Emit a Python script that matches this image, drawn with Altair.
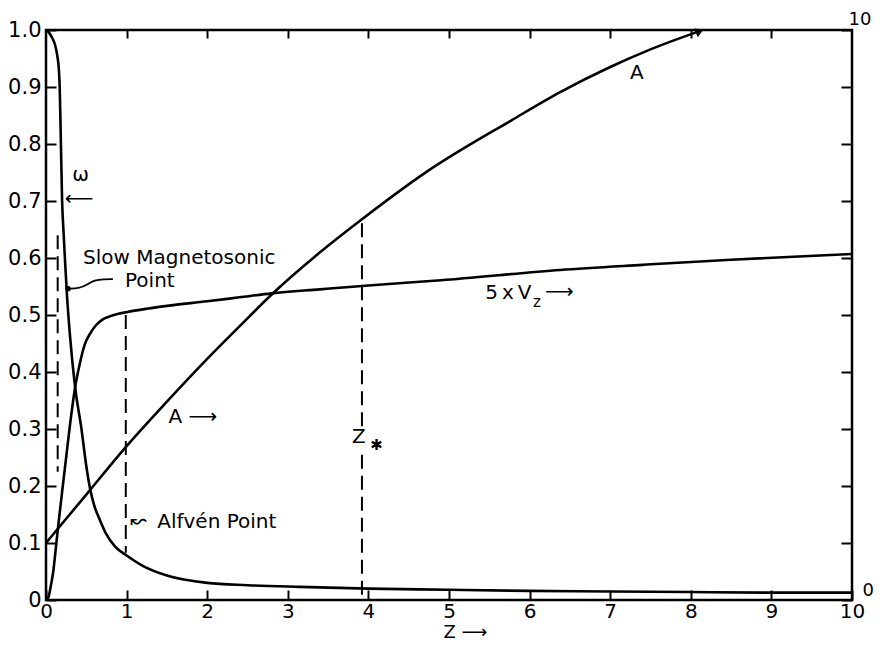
import altair as alt
import pandas as pd

# ---------------- data ----------------
omega_z = [0, 0.04, 0.08, 0.11, 0.14, 0.16, 0.17, 0.185, 0.2, 0.22, 0.24, 0.26,
           0.3, 0.36, 0.44, 0.5, 0.55, 0.6, 0.67, 0.75, 0.85, 1.0, 1.2, 1.5,
           2.0, 2.5, 3.15, 4, 5, 6, 7, 8, 9, 10]
omega_v = [1.0, 0.995, 0.985, 0.975, 0.955, 0.93, 0.9, 0.8, 0.7, 0.64, 0.585, 0.535,
           0.46, 0.375, 0.30, 0.235, 0.193, 0.165, 0.14, 0.115, 0.095, 0.078, 0.06, 0.043,
           0.03, 0.026, 0.023, 0.02, 0.018, 0.016, 0.015, 0.014, 0.013, 0.013]

vz_z = [0, 0.03, 0.06, 0.09, 0.11, 0.15, 0.2, 0.25, 0.3, 0.36, 0.42, 0.48, 0.55,
        0.62, 0.7, 0.8, 0.9, 1.0, 1.25, 1.5, 2.0, 2.4, 2.8, 3.4, 3.92, 4.9, 6.38,
        7.4, 8.5, 10]
vz_v = [0, 0.005, 0.025, 0.05, 0.075, 0.128, 0.19, 0.25, 0.31, 0.372, 0.415, 0.448,
        0.468, 0.482, 0.492, 0.498, 0.502, 0.505, 0.511, 0.516, 0.524, 0.531, 0.538,
        0.545, 0.551, 0.561, 0.579, 0.588, 0.597, 0.607]

# A is read on the right-hand axis (0 .. 10)
a_z = [0, 0.5, 1.0, 1.5, 2.0, 2.4, 2.8, 3.4, 3.92, 4.73, 5.78, 6.38, 7.0, 7.5, 8.11]
a_v = [1.0, 1.85, 2.7, 3.48, 4.23, 4.8, 5.36, 6.1, 6.68, 7.52, 8.42, 8.91, 9.35, 9.66, 9.98]

# dashed marker lines: slow magnetosonic point, Alfven point, Z* (two pieces)
mark_z = [0.145, 0.99, 3.92, 3.92]
mark_top = [0.64, 0.50, 0.661, 0.255]
mark_bot = [0.225, 0.083, 0.30, 0.0]

# leader from the slow magnetosonic point to its label
lead_z = [0.273, 0.42, 0.52, 0.6, 0.72, 0.83]
lead_v = [0.546, 0.547, 0.554, 0.561, 0.563, 0.563]

# annotations (left-aligned, normal size)
noteL_text = ["Slow Magnetosonic", "Point", "A \u27f6", "Alfv\u00e9n Point",
              "5\u2009x\u2009V", "\u27f6"]
noteL_z = [0.46, 0.98, 1.52, 1.38, 5.45, 6.19]
noteL_v = [0.60, 0.56, 0.321, 0.137, 0.539, 0.541]
# annotations (centred, normal size)
noteC_text = ["\u03c9", "\u27f5", "Z", "A", "\u219c"]
noteC_z = [0.43, 0.41, 3.88, 7.33, 1.15]
noteC_v = [0.745, 0.703, 0.286, 0.925, 0.139]
# annotations (centred, small)
noteS_text = ["z", "\u2731"]
noteS_z = [6.09, 4.1]
noteS_v = [0.522, 0.272]

left_ticks = [0, 0.1, 0.2, 0.3, 0.4, 0.5, 0.6, 0.7, 0.8, 0.9, 1.0]
x_ticks = [0, 1, 2, 3, 4, 5, 6, 7, 8, 9, 10]
top_ticks = [1, 2, 3, 4, 5, 6, 7, 8, 9]
right_ticks = [0, 1, 2, 3, 4, 5, 6, 7, 8, 9, 10]

# ---------------- chart ----------------
FONT = "DejaVu Sans"
W, H = 806, 570
TICK = 10
LSIZE = 21
NSIZE = 20

x_sc = alt.Scale(domain=[0, 10], nice=False, zero=False)
y_sc = alt.Scale(domain=[0, 1], nice=False, zero=False)

curves = pd.concat([
    pd.DataFrame({"z": omega_z, "v": omega_v, "s": "omega"}),
    pd.DataFrame({"z": vz_z, "v": vz_v, "s": "vz"}),
])
a_df = pd.DataFrame({"z": a_z, "a": a_v})
a_end = a_df.tail(1)
marks_df = pd.DataFrame({"z": mark_z, "top": mark_top, "bot": mark_bot})
lead_df = pd.DataFrame({"z": lead_z, "v": lead_v})
dot_df = lead_df.head(1)
noteL = pd.DataFrame({"t": noteL_text, "z": noteL_z, "v": noteL_v})
noteC = pd.DataFrame({"t": noteC_text, "z": noteC_z, "v": noteC_v})
noteS = pd.DataFrame({"t": noteS_text, "z": noteS_z, "v": noteS_v})

bottom_axis = alt.Axis(
    orient="bottom", values=x_ticks, tickSize=TICK, offset=-TICK, tickWidth=2,
    tickColor="black", domain=False, grid=False, labelFont=FONT, labelFontSize=20,
    labelColor="black", labelPadding=1, labelFlush=False, labelOverlap=False,
    title="Z \u27f6", titleFont=FONT, titleFontSize=18, titleFontWeight="normal",
    titleColor="black", titlePadding=2, titleAlign="left", titleX=397,
)
left_axis = alt.Axis(
    orient="left", values=left_ticks,
    labelExpr="datum.value == 0 ? '0' : format(datum.value, '.1f')",
    tickSize=TICK, offset=-TICK, tickWidth=2, tickColor="black", domain=False,
    grid=False, labelFont=FONT, labelFontSize=LSIZE, labelColor="black",
    labelPadding=5, labelOverlap=False, labelFlush=False, title=None,
)
top_axis = alt.Axis(
    orient="top", values=top_ticks, tickSize=8, offset=-8, tickWidth=2,
    tickColor="black", domain=False, grid=False, labels=False, title=None,
)
# right axis carries A (0..10); A is drawn on the shared scale as A/10
right_axis = alt.Axis(
    orient="right", values=[t / 10 for t in right_ticks], tickSize=11, offset=-11,
    tickWidth=2, tickColor="black", domain=False, grid=False, title=None,
    labelExpr="datum.value == 1 ? '10' : ''",
    labelFont=FONT, labelFontSize=18, labelColor="black", labelAlign="left",
    labelBaseline="middle", labelOverlap=False, labelFlush=False,
    labelPadding=-4, labelOffset=-11,
)
# second right axis: only the "0" label of A, set further out as in the original
right_axis0 = alt.Axis(
    orient="right", values=[0], ticks=False, domain=False, grid=False, title=None,
    labelExpr="'0'", labelFont=FONT, labelFontSize=18, labelColor="black",
    labelAlign="left", labelBaseline="middle", labelOverlap=False, labelFlush=False,
    labelPadding=10, labelOffset=-10, offset=0,
)

X0 = alt.X("z:Q", scale=x_sc, axis=None)
Y0 = alt.Y("v:Q", scale=y_sc, axis=None)

lines = alt.Chart(curves).mark_line(color="black", strokeWidth=2.6, interpolate="monotone").encode(
    x=alt.X("z:Q", scale=x_sc, axis=bottom_axis),
    y=alt.Y("v:Q", scale=y_sc, axis=left_axis),
    detail="s:N",
)
a_line = alt.Chart(a_df).transform_calculate(v="datum.a / 10").mark_line(
    color="black", strokeWidth=2.6, interpolate="monotone").encode(
    x=alt.X("z:Q", scale=x_sc, axis=top_axis),
    y=alt.Y("v:Q", scale=y_sc, axis=right_axis),
)
a_head = alt.Chart(a_end).transform_calculate(v="datum.a / 10").mark_point(
    shape="triangle-right", filled=True, opacity=1, color="black", size=90, angle=336).encode(
    x=X0, y=alt.Y("v:Q", scale=y_sc, axis=right_axis0),
)
rules = alt.Chart(marks_df).mark_rule(color="black", strokeWidth=2, strokeDash=[14, 7]).encode(
    x=X0, y=alt.Y("top:Q", scale=y_sc, axis=None), y2="bot:Q",
)
leader = alt.Chart(lead_df).mark_line(color="black", strokeWidth=1.8, interpolate="basis").encode(
    x=X0, y=Y0,
)
dot = alt.Chart(dot_df).mark_point(color="black", filled=True, opacity=1, size=30).encode(x=X0, y=Y0)
textL = alt.Chart(noteL).mark_text(align="left", baseline="middle", font=FONT, fontSize=NSIZE, color="black").encode(
    x=X0, y=Y0, text="t:N")
textC = alt.Chart(noteC).mark_text(align="center", baseline="middle", font=FONT, fontSize=NSIZE, color="black").encode(
    x=X0, y=Y0, text="t:N")
textS = alt.Chart(noteS).mark_text(align="center", baseline="middle", font=FONT, fontSize=15, color="black").encode(
    x=X0, y=Y0, text="t:N")

chart = alt.layer(
    lines, a_line, a_head, rules, leader, dot, textL, textC, textS
).resolve_axis(
    x="independent", y="independent"
).properties(
    width=W, height=H, background="white",
    padding={"left": 38, "top": 22, "right": 22, "bottom": 44},
    autosize=alt.AutoSizeParams(type="none"),
).configure_view(stroke="black", strokeWidth=2.5)

chart.save("out.html", embed_options={"renderer": "svg", "actions": False})
